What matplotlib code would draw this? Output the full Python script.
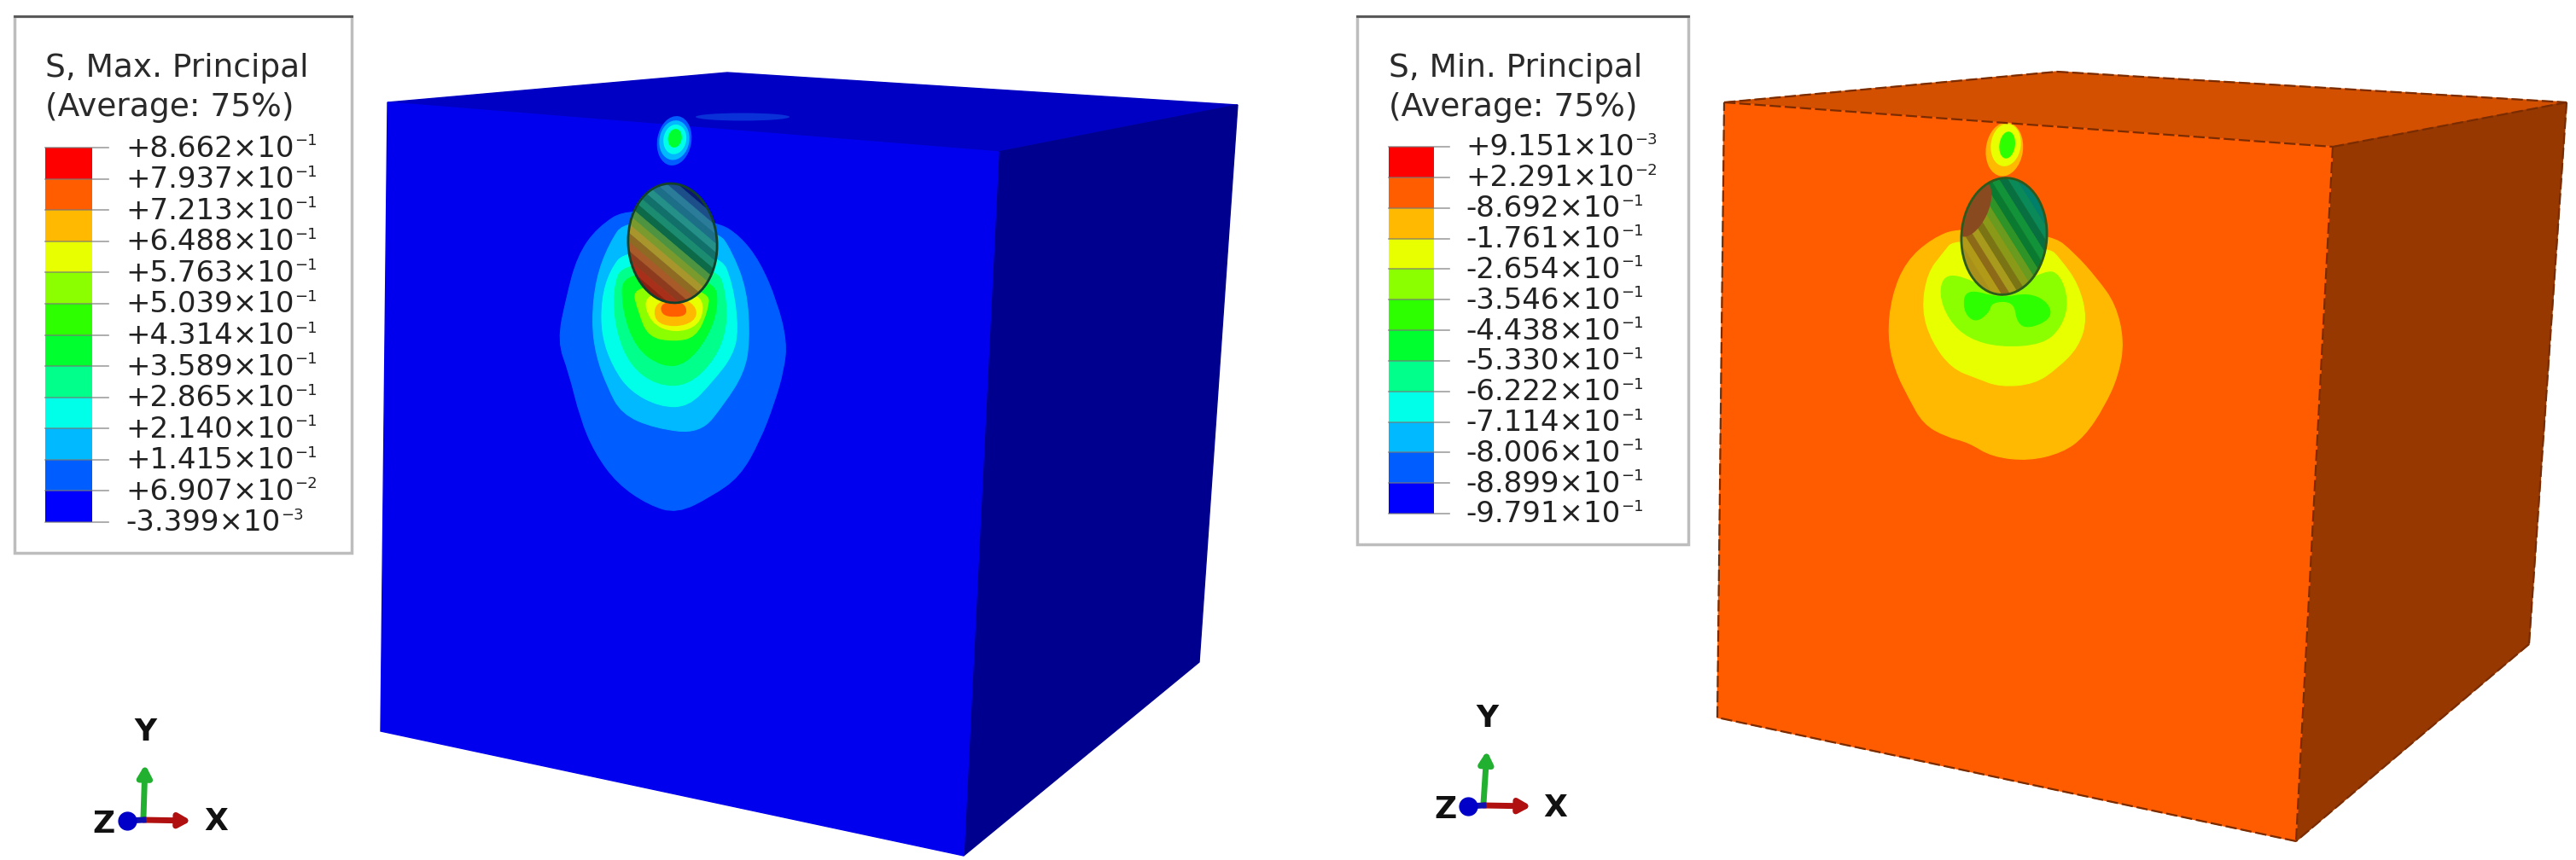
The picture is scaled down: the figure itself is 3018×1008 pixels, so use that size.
import numpy as np
import matplotlib
matplotlib.use('Agg')
import matplotlib.pyplot as plt
from matplotlib.patches import Ellipse, PathPatch, Polygon, Rectangle
from matplotlib.path import Path

plt.rcParams['font.family'] = ['DejaVu Sans']

# legend colours, top to bottom
level_colors = ['#ff0000', '#ff5d00', '#ffb900', '#e8ff00', '#8bff00', '#2eff00',
                '#00ff2e', '#00ff8b', '#00ffe8', '#00b9ff', '#005dff', '#0000ff']

max_title = ['S, Max. Principal', '(Average: 75%)']
max_labels = ['+8.662', '+7.937', '+7.213', '+6.488', '+5.763', '+5.039', '+4.314',
              '+3.589', '+2.865', '+2.140', '+1.415', '+6.907', '-3.399']
max_exps = ['-1', '-1', '-1', '-1', '-1', '-1', '-1', '-1', '-1', '-1', '-1', '-2', '-3']

min_title = ['S, Min. Principal', '(Average: 75%)']
min_labels = ['+9.151', '+2.291', '-8.692', '-1.761', '-2.654', '-3.546', '-4.438',
              '-5.330', '-6.222', '-7.114', '-8.006', '-8.899', '-9.791']
min_exps = ['-3', '-2', '-1', '-1', '-1', '-1', '-1', '-1', '-1', '-1', '-1', '-1', '-1']

# cube corners: top-left, top-back, top-right, top-front-right, bottom-left, bottom, bottom-right
max_cube = [(454, 120), (852, 85), (1450, 123), (1170, 178), (446, 857), (1129, 1003), (1405, 776)]
min_cube = [(2020, 120), (2410, 84), (3007, 120), (2733, 172), (2012, 841), (2690, 986), (2963, 755)]

# contour bands on the left cube, outermost first (pixels x3 from (600, 100))
max_bands = [
    ('#005dff', [(410, 430), (300, 500), (230, 600), (190, 750), (160, 900), (200, 1010), (240, 1170),
                 (290, 1290), (370, 1400), (480, 1475), (580, 1505), (700, 1445), (800, 1375), (870, 1250),
                 (920, 1120), (955, 1000), (965, 900), (930, 760), (870, 620), (800, 530), (720, 480)]),
    ('#00b9ff', [(400, 470), (340, 560), (295, 680), (280, 830), (295, 950), (335, 1060), (385, 1155),
                 (500, 1205), (660, 1225), (745, 1120), (815, 1010), (835, 900), (825, 720), (770, 580), (720, 510)]),
    ('#00ffe8', [(400, 580), (345, 650), (315, 750), (315, 880), (355, 990), (415, 1075), (520, 1130),
                 (620, 1130), (705, 1040), (775, 950), (795, 860), (775, 700), (730, 590)]),
    ('#00ff8b', [(390, 620), (355, 720), (365, 860), (415, 985), (510, 1055), (620, 1055), (715, 960),
                 (755, 850), (750, 730), (720, 640)]),
    ('#00ff2e', [(390, 650), (385, 780), (435, 925), (530, 990), (610, 980), (685, 890), (725, 780), (710, 680)]),
    ('#8bff00', [(420, 700), (445, 800), (480, 885), (570, 900), (645, 885), (685, 800), (695, 720)]),
    ('#e8ff00', [(460, 730), (485, 835), (570, 870), (655, 845), (675, 770), (640, 730)]),
    ('#ffb900', [(505, 760), (500, 830), (570, 850), (640, 830), (650, 785), (605, 750)]),
    ('#ff5d00', [(525, 765), (525, 805), (570, 815), (617, 805), (600, 760)]),
]
max_spot = [('#005dff', (570, 195), 120, 175), ('#00b9ff', (570, 193), 105, 140), ('#00ffe8', (572, 190), 80, 105),
            ('#00ff2e', (572, 186), 48, 66)]

# same for the right cube (pixels x3 from (2200, 100))
min_bands = [
    ('#ffb900', [(290, 500), (190, 540), (100, 620), (50, 740), (35, 880), (60, 1000), (110, 1100), (160, 1190),
                 (240, 1235), (320, 1255), (400, 1305), (530, 1320), (650, 1290), (725, 1235), (795, 1130),
                 (845, 1020), (865, 900), (835, 770), (770, 680), (690, 590), (610, 525)]),
    ('#e8ff00', [(270, 540), (230, 590), (175, 660), (155, 790), (190, 900), (260, 995), (350, 1030), (430, 1060),
                 (550, 1050), (630, 995), (705, 920), (735, 820), (705, 700), (640, 610), (600, 570)]),
    ('#8bff00', [(240, 660), (215, 730), (250, 825), (320, 890), (430, 920), (580, 910), (645, 850), (670, 760),
                 (640, 665), (590, 650), (430, 740), (340, 690)]),
    ('#2eff00', [(310, 715), (300, 790), (340, 835), (390, 800), (400, 760), (480, 760), (490, 835), (530, 855),
                 (610, 820), (600, 765), (530, 730), (430, 750)]),
]
min_spot = [('#ffb900', (445, 225), 130, 190), ('#e8ff00', (450, 210), 105, 150), ('#2eff00', (455, 210), 55, 95)]

# stripes inside the inclusion, from upper right to lower left
max_stripes = ['#0a1a70', '#1c4f8a', '#2a7c98', '#1d6f88', '#249088', '#12706a', '#1c8c70', '#0c6a48',
               '#4e9440', '#7b9a2e', '#a8962c', '#8e6a22', '#a85a28', '#8e3a1e', '#a8301a', '#8c2010']
min_stripes = ['#00806a', '#0a8a58', '#087040', '#12933a', '#0a7a30', '#2f9428', '#6a9a1e', '#8a9a18',
               '#7a7414', '#a89a1c', '#8c6a18', '#b09a18', '#a8901a']

fig = plt.figure(figsize=(30.18, 10.08), dpi=100)
ax = fig.add_axes([0, 0, 1, 1])
ax.set_xlim(0, 3018)
ax.set_ylim(1008, 0)
ax.axis('off')


def blob(xy, origin, color, z=3):
    # closed outline with quadratic curves between the points
    pts = np.array(xy) / 3.0 + np.array(origin)
    mids = (pts + np.roll(pts, -1, axis=0)) / 2
    verts = [mids[-1]]
    codes = [Path.MOVETO]
    for p, m in zip(pts, mids):
        verts += [p, m]
        codes += [Path.CURVE3, Path.CURVE3]
    ax.add_patch(PathPatch(Path(verts, codes), fc=color, ec=color, lw=0.8, zorder=z))


def draw_cube(c, front, top, right):
    tl, back, tr, ftr, bl, bot, br = c
    ax.add_patch(Polygon([tl, back, tr, ftr], fc=top, ec=top, lw=1, zorder=1))
    ax.add_patch(Polygon([ftr, tr, br, bot], fc=right, ec=right, lw=1, zorder=1))
    ax.add_patch(Polygon([tl, ftr, bot, bl], fc=front, ec=front, lw=1, zorder=2))


def draw_inclusion(center, w, h, tilt, stripes, along, edge, spread):
    e = Ellipse(center, w, h, angle=tilt, fc='none', ec=edge, lw=2, zorder=8)
    ax.add_patch(e)
    u = np.array(along) / np.hypot(*along)
    v = np.array([-u[1], u[0]])
    if v[1] < 0:
        v = -v
    c = np.array(center)
    edges = np.linspace(-h * spread, h * spread, len(stripes) + 1)
    for i, col in enumerate(stripes):
        a, b = edges[i], edges[i + 1]
        p = Polygon([c + v * a - u * h, c + v * a + u * h, c + v * b + u * h, c + v * b - u * h],
                    fc=col, ec=col, lw=0.5, zorder=6)
        ax.add_patch(p)
        p.set_clip_path(e)
    return e


def draw_legend(box, bar, ticks_x, text_x, rows, title, labels, exps):
    x0, y0, x1, y1 = box
    ax.add_patch(Rectangle((x0, y0), x1 - x0, y1 - y0, fc='white', ec='#bdbdbd', lw=2.5, zorder=4))
    ax.plot([x0, x1], [y0, y0], color='#555555', lw=2, zorder=5)
    ax.text(bar[0], 80, title[0], fontsize=27, color='#2a2a2a', va='center', zorder=5)
    ax.text(bar[0], 126, title[1], fontsize=27, color='#2a2a2a', va='center', zorder=5)
    r = fig.canvas.get_renderer()
    for i, col in enumerate(level_colors):
        ax.barh((rows[i] + rows[i + 1]) / 2, bar[1] - bar[0], height=rows[i + 1] - rows[i], left=bar[0],
                color=col, zorder=5)
    for i, (lab, ex) in enumerate(zip(labels, exps)):
        ax.plot([bar[0], ticks_x], [rows[i], rows[i]], color='#777777', lw=1.2, alpha=0.7, zorder=6)
        t = ax.text(text_x, rows[i] + 1, lab + '\u00d710', fontsize=24.5, color='#222222', va='center', zorder=6)
        end = t.get_window_extent(r).x1
        ax.text(end + 1, rows[i] - 8, ex.replace('-', '\u2212'), fontsize=13, color='#222222', va='center', zorder=6)


def draw_triad(o, ytip, xtip, zdot, ylab, xlab, zlab):
    ax.annotate('', xy=ytip, xytext=o, zorder=6,
                arrowprops=dict(arrowstyle='-|>,head_width=0.45,head_length=0.8', color='#22b030', lw=5, shrinkA=0, shrinkB=0))
    ax.annotate('', xy=xtip, xytext=(o[0], xtip[1] - 1), zorder=6,
                arrowprops=dict(arrowstyle='-|>,head_width=0.45,head_length=0.8', color='#b01010', lw=5, shrinkA=0, shrinkB=0))
    ax.plot([o[0], zdot[0]], [xtip[1] - 1, zdot[1]], color='#1010b0', lw=5, zorder=6)
    ax.plot(*zdot, 'o', color='#0000c8', ms=15, zorder=7)
    for s, p in (('Y', ylab), ('X', xlab), ('Z', zlab)):
        ax.text(p[0], p[1], s, fontsize=26, fontweight='bold', color='#111111', ha='center', va='center')


# left cube
draw_cube(max_cube, '#0000ee', '#0000c4', '#00008e')
ax.add_patch(Ellipse((870, 137), 110, 9, fc='#0a30d8', ec='none', zorder=3))
for col, xy in max_bands:
    blob(xy, (600, 100), col)
for col, c, w, h in max_spot:
    ax.add_patch(Ellipse((600 + c[0] / 3, 100 + c[1] / 3), w / 3, h / 3, angle=10, fc=col, ec='none', zorder=4))
draw_inclusion((788, 285), 104, 140, -4, max_stripes, (1, 0.85), '#12402a', 0.46)
draw_legend((17, 19, 412, 648), (53, 108), 127, 147, np.linspace(173, 612, 13), max_title, max_labels, max_exps)
draw_triad((168, 958), (170, 896), (224, 962), (149, 962), (170, 858), (253, 963), (122, 966))

# right cube
draw_cube(min_cube, '#ff5c00', '#d35000', '#963800')
for col, xy in min_bands:
    blob(xy, (2200, 100), col)
for col, c, w, h in min_spot:
    ax.add_patch(Ellipse((2200 + c[0] / 3, 100 + c[1] / 3), w / 3, h / 3, angle=8, fc=col, ec='none', zorder=4))
ell = draw_inclusion((2348, 277), 100, 137, 4, min_stripes, (1, 1.6), '#2c5a1c', 0.41)
# brown patch at the upper left of the inclusion
patch = Ellipse((2312, 245), 34, 70, angle=25, fc='#8a4a20', ec='none', zorder=7)
ax.add_patch(patch)
patch.set_clip_path(ell)
tl, back, tr, ftr, bl, bot, br = min_cube
for a, b in ((tl, back), (back, tr), (tl, ftr), (ftr, tr), (tr, br), (br, bot), (bot, bl), (bl, tl), (ftr, bot)):
    ax.plot([a[0], b[0]], [a[1], b[1]], color='#7a2c00', lw=1.6, ls=(0, (6, 2)), zorder=5)
draw_legend((1590, 19, 1978, 638), (1627, 1680), 1698, 1717, np.linspace(172, 602, 13), min_title, min_labels, min_exps)
draw_triad((1738, 942), (1742, 880), (1794, 945), (1720, 945), (1742, 842), (1822, 947), (1694, 949))

fig.savefig('out.png', dpi=100)
